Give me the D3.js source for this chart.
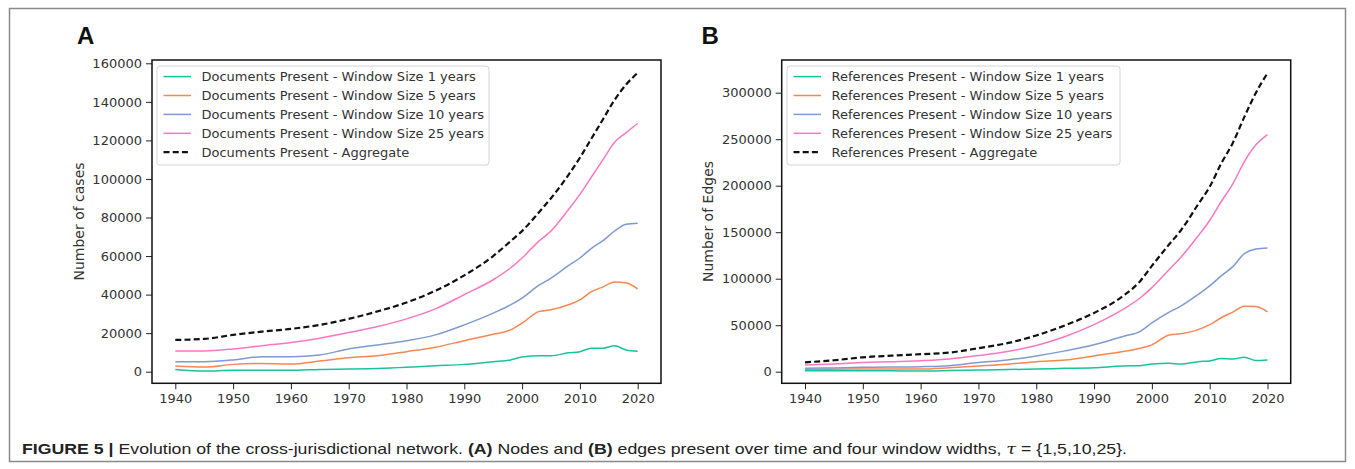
<!DOCTYPE html>
<html>
<head>
<meta charset="utf-8">
<script src="https://cdn.jsdelivr.net/npm/d3@7"></script>
<style>
  html, body { margin: 0; padding: 0; background: #fff; }
  svg { display: block; }
</style>
</head>
<body>
<svg id="chart" width="1355" height="469"></svg>
<script>
// ---- data (values in thousands) ----
const years = [1940,1945,1950,1955,1960,1965,1970,1975,1980,1985,1990,1995,1998,2000,2003,2005,2008,2010,2012,2014,2016,2018,2020];

const docs1  = [1.2,0.4,0.7,0.7,0.7,1.2,1.4,1.7,2.3,3.1,3.8,5.2,6.1,7.6,8.3,8.3,9.8,10.4,12.2,12.2,13.4,11.3,10.6];
const docs5  = [3.0,2.4,3.8,4.3,4.0,5.6,7.3,8.3,10.4,12.7,16.1,19.4,21.7,25.2,31.3,32.1,34.7,37.3,41.5,44,46.5,46,43];
const docs10 = [5.2,5.2,6.1,7.8,7.8,8.7,11.8,13.9,16.1,19.1,24.3,30.4,34.7,38.2,45,48.6,55,59,64,68,73,76.5,77];
const docs25 = [10.8,10.8,11.8,13.5,15.1,17.4,20.3,23.4,27.4,32.6,40,47.7,53.8,59,68,73,84,92,101,110,119,124,128.8];
const docsAgg= [16.5,17.0,19.1,20.8,22.2,24.3,27.4,31.3,35.9,42,50,60,67.7,73,83,90,102,111,121,131,141,149,155];

const refs1  = [1.1,1.1,1.1,0.9,0.7,1.2,1.8,2.3,2.9,3.6,4.3,6.1,6.5,8.3,9,8.3,10.8,11.6,14.3,13.7,15.5,12,12.6];
const refs5  = [2.5,2.7,2.9,2.9,2.9,4.3,6.1,8,10.8,12.6,17,21.7,25.3,28.9,39.5,40.8,45.2,50.6,58,64,70.5,70,64.3];
const refs10 = [3.6,4.1,4.7,5.0,5.4,6.5,9.8,12.6,17,22.4,28.9,37.9,43.4,52.4,64,70.5,83,92.2,103,113,127,132,133];
const refs25 = [7.2,8.3,9.8,10.8,11.9,13.7,17.3,21.7,28.2,37.9,50.6,66.9,79.5,90.4,110,122.9,146,162.6,183,202,226,244,255];
const refsAgg= [10.1,12.3,15.5,17.3,18.8,20.6,25.3,30.7,39,49.9,63.2,81.3,97.6,113.8,137,151.8,180,198.8,224,246,274,300,321];

const xTicks = [1940,1950,1960,1970,1980,1990,2000,2010,2020];
const yTicksA = [0,20000,40000,60000,80000,100000,120000,140000,160000];
const yTicksB = [0,50000,100000,150000,200000,250000,300000];

const docLabels = ["Documents Present - Window Size 1 years","Documents Present - Window Size 5 years","Documents Present - Window Size 10 years","Documents Present - Window Size 25 years","Documents Present - Aggregate"];
const refLabels = ["References Present - Window Size 1 years","References Present - Window Size 5 years","References Present - Window Size 10 years","References Present - Window Size 25 years","References Present - Aggregate"];

const colors = ["#17c39b","#fc8552","#7e9bd0","#fb77c2","#111111"];

// ---- drawing ----
const svg = d3.select("#chart");
svg.append("rect").attr("x",9.5).attr("y",8.5).attr("width",1336).attr("height",453)
  .attr("fill","none").attr("stroke","#8a8a8a").attr("stroke-width",1.5);

const FONT = "'DejaVu Sans', sans-serif";

function panel(cfg) {
  const g = svg.append("g");
  const x = d3.scaleLinear().domain([1940,2020]).range(cfg.xr);
  const y = d3.scaleLinear().domain([0,cfg.yTop]).range([371.7, cfg.yTopPx]);

  g.append("text").attr("x",cfg.letterX).attr("y",44).text(cfg.letter)
    .attr("font-family","'Liberation Sans', Arial, sans-serif").attr("font-weight","bold")
    .attr("font-size",24).attr("fill","#111");

  const series = [cfg.s1,cfg.s5,cfg.s10,cfg.s25,cfg.agg];
  const line = d3.line().x((d,i)=>x(years[i])).y(d=>y(d*1000)).curve(d3.curveMonotoneX);
  series.forEach((s,k)=>{
    g.append("path").attr("d",line(s)).attr("fill","none")
      .attr("stroke",colors[k]).attr("stroke-width", k===4 ? 2.2 : 1.5)
      .attr("stroke-dasharray", k===4 ? "6,3.2" : null);
  });

  const ax = g.append("g").attr("transform",`translate(0,${cfg.box[3]})`)
    .call(d3.axisBottom(x).tickValues(xTicks).tickFormat(d3.format("d")).tickSize(6).tickPadding(4));
  const ay = g.append("g").attr("transform",`translate(${cfg.box[0]},0)`)
    .call(d3.axisLeft(y).tickValues(cfg.yTicks).tickFormat(d3.format("d")).tickSize(6).tickPadding(4));
  [ax,ay].forEach(a=>{
    a.select(".domain").remove();
    a.selectAll(".tick line").attr("stroke","#222").attr("stroke-width",1);
    a.selectAll(".tick text").attr("font-family",FONT).attr("font-size",13).attr("fill","#333");
  });

  g.append("rect").attr("x",cfg.box[0]).attr("y",cfg.box[1])
    .attr("width",cfg.box[2]-cfg.box[0]).attr("height",cfg.box[3]-cfg.box[1])
    .attr("fill","none").attr("stroke","#111").attr("stroke-width",1.5);

  g.append("text").attr("transform",`translate(${cfg.ylabX},221.5) rotate(-90)`)
    .attr("text-anchor","middle").attr("dominant-baseline","central")
    .attr("font-family",FONT).attr("font-size",14).attr("fill","#333").text(cfg.ylabel);

  const L = cfg.legend;
  g.append("rect").attr("x",L[0]).attr("y",66).attr("width",L[1]-L[0]).attr("height",99)
    .attr("rx",3).attr("fill","#fff").attr("fill-opacity",0.85).attr("stroke","#d4d4d4").attr("stroke-width",1);
  cfg.labels.forEach((lab,k)=>{
    const yy = 76.6 + k*18.9;
    g.append("line").attr("x1",L[0]+6.5).attr("x2",L[0]+34).attr("y1",yy).attr("y2",yy)
      .attr("stroke",colors[k]).attr("stroke-width", k===4 ? 2.2 : 1.5)
      .attr("stroke-dasharray", k===4 ? "6,3.2" : null);
    g.append("text").attr("x",L[0]+44.5).attr("y",yy).attr("dominant-baseline","central")
      .attr("font-family",FONT).attr("font-size",13).attr("fill","#333").text(lab);
  });
}

panel({letter:"A", letterX:77, xr:[175.3,637.7], yTop:160000, yTopPx:63.3, box:[152,60,661,383.3],
  yTicks:yTicksA, ylabX:79, ylabel:"Number of cases", legend:[157,489], labels:docLabels,
  s1:docs1, s5:docs5, s10:docs10, s25:docs25, agg:docsAgg});
panel({letter:"B", letterX:701.5, xr:[805,1267.5], yTop:300000, yTopPx:92.7, box:[781.7,60,1290.7,383.3],
  yTicks:yTicksB, ylabX:708, ylabel:"Number of Edges", legend:[787,1120], labels:refLabels,
  s1:refs1, s5:refs5, s10:refs10, s25:refs25, agg:refsAgg});

const cap = svg.append("text").attr("x",22).attr("y",454)
  .attr("font-family","'Liberation Sans Narrow', 'Liberation Sans', Arial, sans-serif")
  .attr("font-size",15).attr("fill","#222");
cap.append("tspan").attr("font-weight","bold").text("FIGURE 5 | ");
cap.append("tspan").text("Evolution of the cross-jurisdictional network. ");
cap.append("tspan").attr("font-weight","bold").text("(A)");
cap.append("tspan").text(" Nodes and ");
cap.append("tspan").attr("font-weight","bold").text("(B)");
cap.append("tspan").text(" edges present over time and four window widths, ");
cap.append("tspan").attr("font-style","italic").attr("font-family","'DejaVu Serif', serif").text("τ");
cap.append("tspan").text(" = {1,5,10,25}.");
cap.attr("textLength",1105).attr("lengthAdjust","spacingAndGlyphs");
</script>
</body>
</html>
